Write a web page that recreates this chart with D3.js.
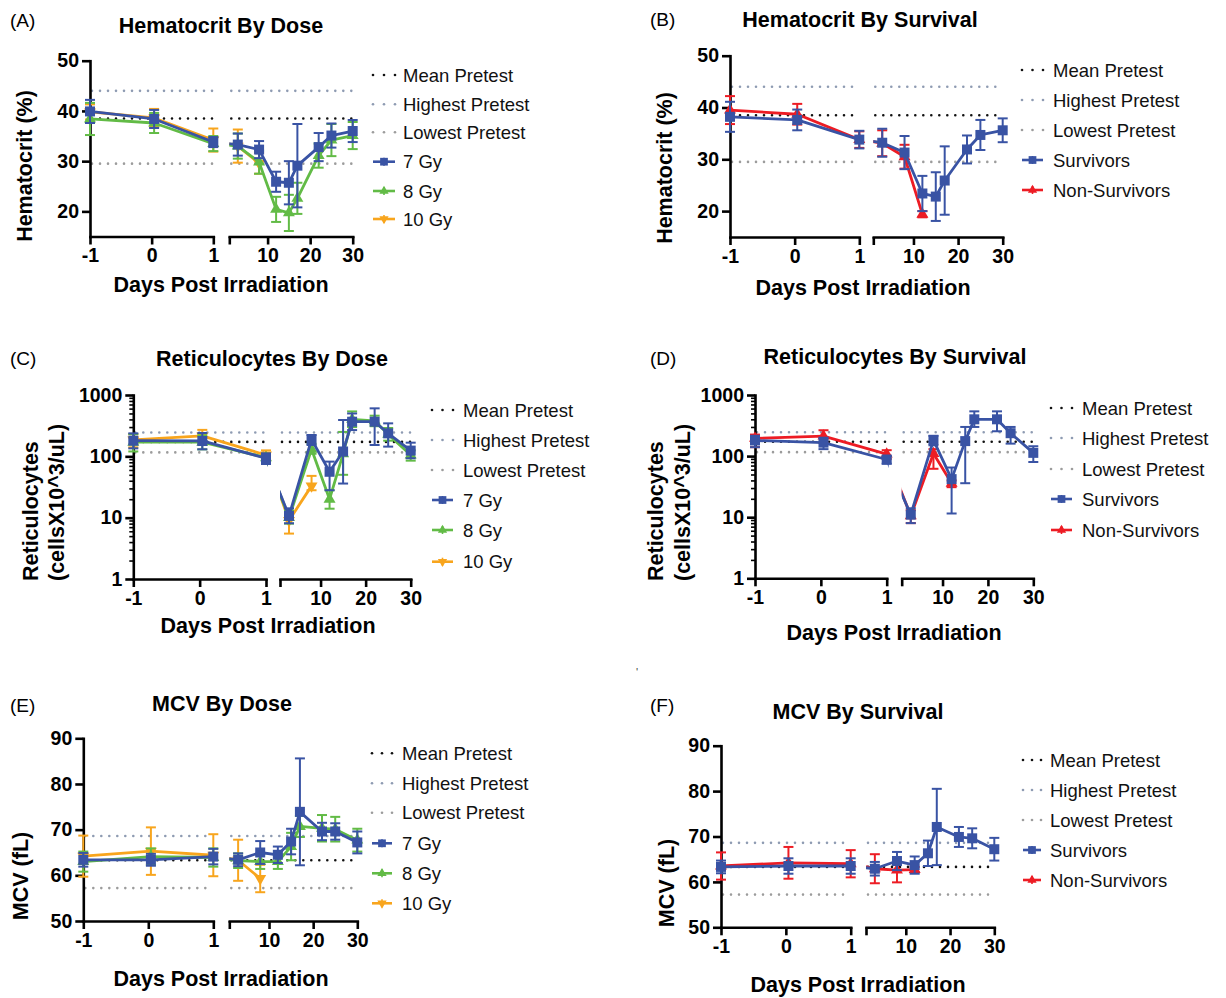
<!DOCTYPE html>
<html><head><meta charset="utf-8">
<script src="https://cdn.jsdelivr.net/npm/d3@7"></script>
<style>body{margin:0;background:#fff} svg{display:block} text{font-family:"Liberation Sans",Arial,Helvetica,sans-serif}</style>
</head><body><svg id="c" width="1226" height="998"></svg>
<script>
// ---------------- DATA ----------------
const days = [-1, 0.04, 1, 3, 8, 12, 15, 17, 22, 25, 30];
const leftTicks = [-1, 0, 1];
const rightTicks = [1, 10, 20, 30];
const hctTicks = [20, 30, 40, 50];
const retTicks = [1, 10, 100, 1000];
const mcvTicks = [50, 60, 70, 80, 90];
const refNames = ["Mean Pretest", "Highest Pretest", "Lowest Pretest"];

// reference lines: mean, highest, lowest pretest
const hctRef = [38.5, 44.0, 29.5];
const retRef = [172, 245, 116];
const mcvRef = [63.3, 68.6, 57.2];

// Hematocrit by dose (mean, SD)
const hctDose7 = [39.9, 38.4, 33.8, 33.3, 32.3, 25.9, 25.7, 29.1, 32.8, 35.1, 36.0];
const hctDose7Sd = [2.3, 1.8, 1.0, 2.2, 1.7, 2.0, 4.3, 8.3, 2.8, 2.4, 2.2];
const hctDose8 = [38.4, 37.6, 33.5, 33.0, 29.8, 20.4, 19.7, 22.6, 31.1, 34.2, 35.1];
const hctDose8Sd = [3.2, 2.0, 1.5, 2.5, 2.3, 2.5, 3.6, 3.1, 2.4, 3.2, 2.7];
const hctDose10 = [39.8, 38.6, 34.2, 33.0, 29.6];
const hctDose10Sd = [1.5, 1.8, 2.3, 3.3, 2.1];
// Hematocrit by survival
const hctSurv = [38.2, 37.6, 33.8, 33.2, 31.3, 23.4, 22.8, 25.9, 31.9, 34.7, 35.6];
const hctSurvSd = [2.9, 2.0, 1.7, 2.7, 3.2, 3.4, 4.7, 6.6, 2.7, 2.9, 2.3];
const hctNon = [39.5, 38.7, 33.8, 33.1, 30.5, 19.4];
const hctNonSd = [2.7, 2.0, 1.6, 2.5, 2.3, 0.6];

// Reticulocytes by dose (mean, low, high)
const retDose7 = [180, 178, 93, 10.7, 189, 56, 120, 367, 367, 237, 124];
const retDose7Lo = [135, 130, 75, 8.1, 153, 28, 36, 268, 153, 144, 93];
const retDose7Hi = [237, 240, 112, 14.2, 223, 82, 391, 500, 606, 345, 167];
const retDose8 = [170, 170, 95, 10, 130, 20, 110, 400, 380, 228, 105];
const retDose8Lo = [120, 130, 80, 8, 110, 14, 50, 300, 310, 180, 85];
const retDose8Hi = [230, 220, 110, 13, 160, 28, 250, 540, 460, 290, 125];
const retDose10 = [185, 215, 105, 9, 33];
const retDose10Lo = [140, 170, 85, 5.5, 28];
const retDose10Hi = [230, 270, 125, 12, 48];
// Reticulocytes by survival
const retSurv = [180, 166, 88, 11, 183, 42, 176, 400, 400, 237, 113];
const retSurvLo = [140, 130, 75, 8, 150, 11.5, 36, 300, 255, 160, 80];
const retSurvHi = [215, 200, 100, 14, 215, 65, 300, 540, 540, 300, 145];
const retNon = [195, 213, 108, 10.5, 110, 36];
const retNonLo = [140, 165, 90, 8, 62, 31];
const retNonHi = [225, 265, 125, 13, 130, 40];

// MCV by dose (mean, SD)
const mcvDose7 = [63.4, 63.4, 64.1, 63.4, 65.0, 64.5, 67.4, 73.9, 69.6, 69.6, 67.2];
const mcvDose7Sd = [1.5, 1.3, 1.7, 1.4, 2.5, 1.8, 2.8, 11.7, 1.9, 1.8, 2.4];
const mcvDose8 = [63.0, 64.1, 63.9, 63.2, 63.0, 63.0, 66.3, 70.7, 70.3, 70.1, 67.7];
const mcvDose8Sd = [2.2, 1.8, 2.0, 1.6, 1.6, 1.6, 3.0, 2.3, 2.9, 2.7, 2.5];
const mcvDose10 = [64.2, 65.3, 64.4, 63.3, 59.3];
const mcvDose10Sd = [4.5, 5.2, 4.6, 4.5, 3.0];
// MCV by survival
const mcvSurv = [63.3, 63.5, 63.5, 62.9, 64.6, 63.7, 66.3, 72.1, 69.9, 69.6, 67.2];
const mcvSurvSd = [1.4, 1.7, 1.7, 1.5, 2.0, 1.9, 2.8, 8.4, 2.2, 2.2, 2.5];
const mcvNon = [63.5, 64.2, 64.0, 62.9, 62.6, 62.7];
const mcvNonSd = [3.0, 3.5, 3.0, 3.2, 2.7, 0.6];

// ---------------- STYLE ----------------
const C = {blue: "#3953a4", green: "#62bb46", orange: "#f8a51d", red: "#ed1c24",
           mean: "#111111", high: "#8e9bb2", low: "#9c9c9c"};
const refColors = [C.mean, C.high, C.low];

function sdSeries(name, color, shape, y, sd) {
  return {name, color, shape, y, lo: y.map((v, i) => v - sd[i]), hi: y.map((v, i) => v + sd[i])};
}
function rangeSeries(name, color, shape, y, lo, hi) { return {name, color, shape, y, lo, hi}; }

const panels = [
  {key: "A", letter: "(A)", letterPos: [10, 27], title: "Hematocrit By Dose", titlePos: [221, 33],
   ylab: ["Hematocrit (%)"], ylabX: [32], ylabY: 166, ylabAnchor: "middle", xlabPos: [221, 292],
   lx: [90, 213.3], rx: [229.3, 352.7], yTop: 60.7, yBot: 236.5, log: false, yDom: [15, 50], yTicks: hctTicks,
   refs: hctRef,
   series: [sdSeries("7 Gy", C.blue, "square", hctDose7, hctDose7Sd),
            sdSeries("8 Gy", C.green, "up", hctDose8, hctDose8Sd),
            sdSeries("10 Gy", C.orange, "down", hctDose10, hctDose10Sd)],
   legend: {x0: 373, x1: 395, tx: 403, rows: [75, 104.3, 132.3, 161.7, 191, 219]}},
  {key: "B", letter: "(B)", letterPos: [650, 26], title: "Hematocrit By Survival", titlePos: [860, 27],
   ylab: ["Hematocrit (%)"], ylabX: [672], ylabY: 168, ylabAnchor: "middle", xlabPos: [863, 295],
   lx: [730, 859.3], rx: [873.3, 1002.7], yTop: 55.7, yBot: 237, log: false, yDom: [15, 50], yTicks: hctTicks,
   refs: hctRef,
   series: [sdSeries("Survivors", C.blue, "square", hctSurv, hctSurvSd),
            sdSeries("Non-Survivors", C.red, "up", hctNon, hctNonSd)],
   legend: {x0: 1022, x1: 1043, tx: 1053, rows: [70, 100, 130, 160, 190]}},
  {key: "C", letter: "(C)", letterPos: [10, 365], title: "Reticulocytes By Dose", titlePos: [272, 366],
   ylab: ["Reticulocytes", "(cellsX10^3/uL)"], ylabX: [38, 64], ylabY: 581, ylabAnchor: "start", xlabPos: [268, 633],
   lx: [133.3, 266], rx: [280, 410.7], yTop: 395, yBot: 579, log: true, yDom: [1, 1000], yTicks: retTicks,
   refs: retRef,
   series: [rangeSeries("7 Gy", C.blue, "square", retDose7, retDose7Lo, retDose7Hi),
            rangeSeries("8 Gy", C.green, "up", retDose8, retDose8Lo, retDose8Hi),
            rangeSeries("10 Gy", C.orange, "down", retDose10, retDose10Lo, retDose10Hi)],
   legend: {x0: 432, x1: 453, tx: 463, rows: [410, 440, 470, 500, 530, 561.7]}},
  {key: "D", letter: "(D)", letterPos: [650, 365], title: "Reticulocytes By Survival", titlePos: [895, 364],
   ylab: ["Reticulocytes", "(cellsX10^3/uL)"], ylabX: [663, 690], ylabY: 581, ylabAnchor: "start", xlabPos: [894, 640],
   lx: [755, 886.7], rx: [901.7, 1033.3], yTop: 395, yBot: 578.3, log: true, yDom: [1, 1000], yTicks: retTicks,
   refs: retRef,
   series: [rangeSeries("Survivors", C.blue, "square", retSurv, retSurvLo, retSurvHi),
            rangeSeries("Non-Survivors", C.red, "up", retNon, retNonLo, retNonHi)],
   legend: {x0: 1051, x1: 1072, tx: 1082, rows: [408, 438, 469, 499, 530]}},
  {key: "E", letter: "(E)", letterPos: [10, 712], title: "MCV By Dose", titlePos: [222, 711],
   ylab: ["MCV (fL)"], ylabX: [28], ylabY: 876, ylabAnchor: "middle", xlabPos: [221, 986],
   lx: [83.3, 213.3], rx: [229.3, 357.3], yTop: 738.3, yBot: 921, log: false, yDom: [50, 90], yTicks: mcvTicks,
   refs: mcvRef,
   series: [sdSeries("7 Gy", C.blue, "square", mcvDose7, mcvDose7Sd),
            sdSeries("8 Gy", C.green, "up", mcvDose8, mcvDose8Sd),
            sdSeries("10 Gy", C.orange, "down", mcvDose10, mcvDose10Sd)],
   legend: {x0: 372, x1: 392, tx: 402, rows: [753.3, 783.3, 812.7, 843.3, 873.3, 903.3]}},
  {key: "F", letter: "(F)", letterPos: [650, 712], title: "MCV By Survival", titlePos: [858, 719],
   ylab: ["MCV (fL)"], ylabX: [674], ylabY: 883, ylabAnchor: "middle", xlabPos: [858, 992],
   lx: [721, 850.7], rx: [866, 994.3], yTop: 745.7, yBot: 927.3, log: false, yDom: [50, 90], yTicks: mcvTicks,
   refs: mcvRef,
   series: [sdSeries("Survivors", C.blue, "square", mcvSurv, mcvSurvSd),
            sdSeries("Non-Survivors", C.red, "up", mcvNon, mcvNonSd)],
   legend: {x0: 1023, x1: 1041, tx: 1050, rows: [760, 790, 820, 850, 880]}}
];

// ---------------- DRAW ----------------
const svg = d3.select("#c");
const defs = svg.append("defs");
svg.append("rect").attr("width", 1226).attr("height", 998).attr("fill", "#fff");

const AX = 2.6;   // axis stroke
const LW = 2.8;   // series line width

function symbolPath(shape, size) {
  if (shape === "square") return d3.symbol(d3.symbolSquare, size * 1.0)();
  return d3.symbol(d3.symbolTriangle, size * 0.62)();
}
function drawMarker(g, shape, x, y, color, size) {
  g.append("path").attr("d", symbolPath(shape, size))
    .attr("transform", `translate(${x},${y})` + (shape === "down" ? " rotate(180)" : ""))
    .attr("fill", color);
}
function styleAxis(sel) {
  sel.selectAll("path.domain").attr("stroke", "#000").attr("stroke-width", AX);
  sel.selectAll(".tick line").attr("stroke", "#000").attr("stroke-width", AX);
  sel.selectAll(".tick text").attr("fill", "#000").attr("font-size", 19.5).attr("font-weight", "bold")
    .attr("font-family", '"Liberation Sans",Arial,sans-serif');
}

panels.forEach(p => {
  const g = svg.append("g");
  const yS = (p.log ? d3.scaleLog() : d3.scaleLinear()).domain(p.yDom).range([p.yBot, p.yTop]);
  const xL = d3.scaleLinear().domain([-1, 1]).range(p.lx);
  const xR = d3.scaleLinear().domain([1, 30]).range(p.rx);
  const xp = d => d <= 1 ? xL(d) : xR(d);

  // clip path: both segments, hiding the gap
  const cid = "clip" + p.key;
  const cp = defs.append("clipPath").attr("id", cid);
  cp.append("rect").attr("x", p.lx[0] - 12).attr("y", 0).attr("width", p.lx[1] - p.lx[0] + 14).attr("height", 998);
  cp.append("rect").attr("x", p.rx[0]).attr("y", 0).attr("width", p.rx[1] - p.rx[0] + 14).attr("height", 998);

  // reference dotted lines
  p.refs.forEach((v, i) => {
    [p.lx, p.rx].forEach(seg => {
      g.append("line").attr("x1", seg[0] + 2).attr("x2", seg[1]).attr("y1", yS(v)).attr("y2", yS(v))
        .attr("stroke", refColors[i]).attr("stroke-width", 2.6).attr("stroke-linecap", "round")
        .attr("stroke-dasharray", "0 8");
    });
  });

  // axes
  const yAxis = d3.axisLeft(yS).tickValues(p.yTicks).tickSize(8).tickSizeOuter(0).tickPadding(3)
    .tickFormat(d => String(d));
  const ya = g.append("g").attr("transform", `translate(${p.lx[0]},0)`).call(yAxis);
  styleAxis(ya);
  if (p.log) {
    const minor = [];
    [1, 10, 100].forEach(b => { for (let k = 2; k <= 9; k++) minor.push(b * k); });
    const ym = g.append("g").attr("transform", `translate(${p.lx[0]},0)`)
      .call(d3.axisLeft(yS).tickValues(minor).tickSize(4).tickFormat(""));
    ym.select("path.domain").remove();
    ym.selectAll(".tick line").attr("stroke", "#000").attr("stroke-width", 1.6);
  }
  const xa1 = g.append("g").attr("transform", `translate(0,${p.yBot})`)
    .call(d3.axisBottom(xL).tickValues(leftTicks).tickSize(8).tickSizeOuter(0).tickPadding(4).tickFormat(d => String(d)));
  styleAxis(xa1);
  const xa2 = g.append("g").attr("transform", `translate(0,${p.yBot})`)
    .call(d3.axisBottom(xR).tickValues(rightTicks).tickSize(8).tickSizeOuter(0).tickPadding(4)
      .tickFormat(d => d === 1 ? "" : String(d)));
  styleAxis(xa2);
  xa1.selectAll("path.domain").attr("stroke-linecap", "square");
  xa2.selectAll("path.domain").attr("stroke-linecap", "square");
  ya.selectAll("path.domain").attr("stroke-linecap", "square");

  // series (draw in reverse legend order so the first series is on top)
  const ser = p.series.slice().reverse();
  ser.forEach(s => {
    const pts = s.y.map((v, i) => [xp(days[i]), yS(v)]);
    g.append("path").attr("d", d3.line()(pts)).attr("fill", "none").attr("stroke", s.color)
      .attr("stroke-width", LW).attr("stroke-linejoin", "round").attr("clip-path", `url(#${cid})`);
    s.y.forEach((v, i) => {
      const x = xp(days[i]), y1 = yS(s.lo[i]), y2 = yS(s.hi[i]);
      const eg = g.append("g").attr("stroke", s.color).attr("stroke-width", 2);
      eg.append("line").attr("x1", x).attr("x2", x).attr("y1", y1).attr("y2", y2);
      eg.append("line").attr("x1", x - 5).attr("x2", x + 5).attr("y1", y1).attr("y2", y1);
      eg.append("line").attr("x1", x - 5).attr("x2", x + 5).attr("y1", y2).attr("y2", y2);
    });
    s.y.forEach((v, i) => drawMarker(g, s.shape, xp(days[i]), yS(v), s.color, 100));
  });

  // texts
  g.append("text").attr("x", p.letterPos[0]).attr("y", p.letterPos[1]).attr("font-size", 19).text(p.letter);
  g.append("text").attr("x", p.titlePos[0]).attr("y", p.titlePos[1]).attr("text-anchor", "middle")
    .attr("font-size", 21.5).attr("font-weight", "bold").text(p.title);
  g.append("text").attr("x", p.xlabPos[0]).attr("y", p.xlabPos[1]).attr("text-anchor", "middle")
    .attr("font-size", 21.5).attr("font-weight", "bold").text("Days Post Irradiation");
  p.ylab.forEach((t, i) => {
    g.append("text").attr("transform", `translate(${p.ylabX[i]},${p.ylabY}) rotate(-90)`)
      .attr("text-anchor", p.ylabAnchor).attr("font-size", 21.5).attr("font-weight", "bold").text(t);
  });

  // legend
  const L = p.legend;
  const entries = refNames.map((n, i) => ({name: n, ref: true, color: refColors[i]}))
    .concat(p.series.map(s => ({name: s.name, ref: false, color: s.color, shape: s.shape})));
  entries.forEach((e, i) => {
    const yy = L.rows[i];
    if (e.ref) {
      [0, 0.5, 1].forEach(f => g.append("circle").attr("cx", L.x0 + f * (L.x1 - L.x0)).attr("cy", yy)
        .attr("r", 1.3).attr("fill", e.color));
    } else {
      g.append("line").attr("x1", L.x0).attr("x2", L.x1).attr("y1", yy).attr("y2", yy)
        .attr("stroke", e.color).attr("stroke-width", 2.6);
      g.append("line").attr("x1", (L.x0 + L.x1) / 2).attr("x2", (L.x0 + L.x1) / 2).attr("y1", yy - 4).attr("y2", yy + 4)
        .attr("stroke", e.color).attr("stroke-width", 1.6);
      drawMarker(g, e.shape, (L.x0 + L.x1) / 2, yy, e.color, 60);
    }
    g.append("text").attr("x", L.tx).attr("y", yy + 6.5).attr("font-size", 18.5).attr("fill", "#111").text(e.name);
  });
});

// small stray mark present in the original figure
svg.append("text").attr("x", 636).attr("y", 676).attr("font-size", 11).attr("fill", "#444").text("'");
</script></body></html>
